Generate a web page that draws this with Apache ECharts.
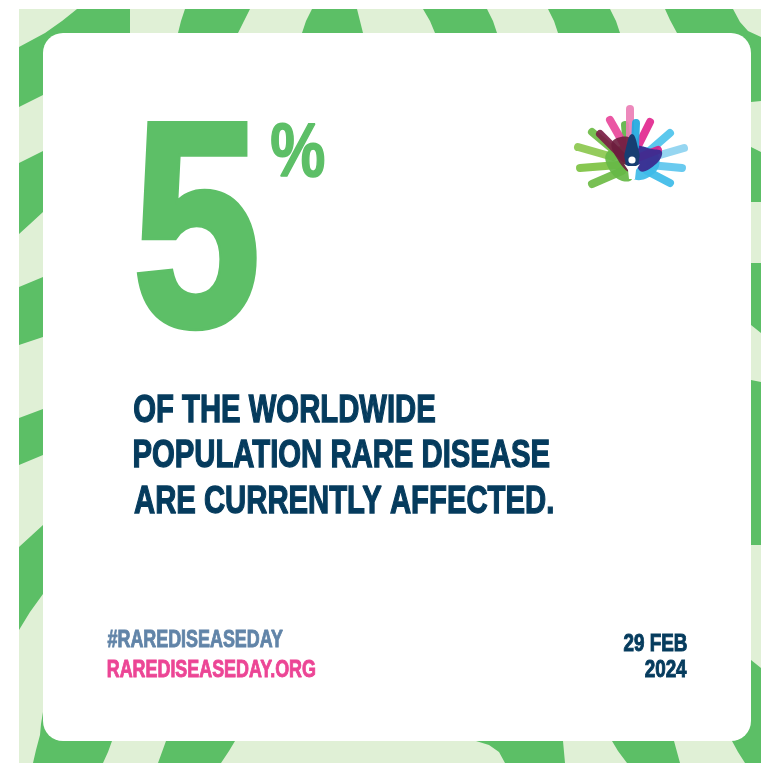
<!DOCTYPE html>
<html><head><meta charset="utf-8">
<script src="https://cdn.jsdelivr.net/npm/echarts@6/dist/echarts.min.js"></script>
<style>html,body{margin:0;padding:0;background:#fff}#c{width:761px;height:763px}</style>
</head><body><div id="c"></div>
<script>
// ---- content ----
const statValue = ['5'];
const statUnit = ['%'];
const bodyLines = ['OF THE WORLDWIDE', 'POPULATION RARE DISEASE', 'ARE CURRENTLY AFFECTED.'];
const hashtagText = ['#RAREDISEASEDAY'];
const siteText = ['RAREDISEASEDAY.ORG'];
const dateLines = ['29 FEB', '2024'];

// ---- styles ----
const C = {
  dark: '#5CBF66', light: '#E0F0D6', green: '#5DBF67', navy: '#053B5D',
  slate: '#6184A8', pink: '#EC4595'
};
const FAMILY = '"Liberation Sans", Arial, sans-serif';

const ctx = document.createElement('canvas').getContext('2d');
function ink(text, size, weight) {
  ctx.font = weight + ' ' + size + 'px ' + FAMILY;
  ctx.textBaseline = 'middle'; ctx.textAlign = 'left';
  const m = ctx.measureText(text);
  return { l: m.actualBoundingBoxLeft, r: m.actualBoundingBoxRight, a: m.actualBoundingBoxAscent, d: m.actualBoundingBoxDescent };
}
// Place text so its ink box fits the given box
function makeText(text, o) {
  const weight = o.weight || 'bold';
  let size = o.size;
  if (!size) { const b = ink(text, 100, weight); size = (o.y1 - o.y0) / (b.a + b.d) * 100; }
  const m = ink(text, size, weight);
  const sx = o.sx || (o.x1 - o.x0) / (m.l + m.r);
  const x = o.align === 'right' ? o.x1 - m.r * sx : o.x0 + m.l * sx;
  const y = o.y1 - m.d;
  const style = { text: text, fontSize: size, fontFamily: FAMILY, fontWeight: weight, fill: o.color,
    align: 'left', verticalAlign: 'middle', textAlign: 'left', textVerticalAlign: 'middle' };
  if (o.stroke) { style.stroke = o.color; style.lineWidth = o.stroke; style.lineJoin = 'round'; }
  return { el: { type: 'text', x: x, y: y, scaleX: sx, z: 20, style: style }, sx: sx, size: size };
}
function sizeFor(text, h, weight) { const b = ink(text, 100, weight || 'bold'); return h / (b.a + b.d) * 100; }
function widthFor(text, size, weight) { const m = ink(text, size, weight || 'bold'); return m.l + m.r; }

const els = [];
// frame background
els.push({ type: 'rect', shape: { x: 19, y: 9, width: 742, height: 754 }, style: { fill: C.light }, z: 1 });
const stripes = [
  // top-left corner
  [[77,9],[130,9],[130,55],[55,55],[55,92],[43,95],[19,107],[19,47],[45,33],[62,21]],
  // top band
  [[185,9],[250,9],[244,21],[238,33],[238,50],[178,50],[178,33],[181,21]],
  [[312,9],[357,9],[360,21],[363,33],[363,50],[302,50],[302,33],[306,21]],
  [[423,9],[487,9],[493,21],[497,33],[497,50],[435,50],[435,33],[430,21]],
  [[548,9],[610,9],[616,21],[620,33],[620,50],[558,50],[558,33],[554,21]],
  // top-right corner
  [[665,9],[733,9],[740,22],[748,31],[761,37],[761,101],[751,102],[735,102],[735,50],[677,50],[677,33],[670,20]],
  // right band
  [[735,147],[751,147],[761,152],[761,202],[751,202],[735,202]],
  [[735,263],[751,263],[761,263],[761,333],[751,325],[735,325]],
  [[735,380],[751,380],[761,382],[761,545],[751,545],[735,545]],
  // bottom-right corner
  [[735,662],[751,660],[761,668],[761,763],[745,763],[738,752],[732,741],[732,725],[735,725]],
  // bottom band
  [[612,725],[674,725],[674,741],[677,752],[680,763],[627,763],[618,751],[612,741]],
  [[476,725],[563,725],[563,741],[564,752],[565,763],[505,763],[499,752],[489,745],[476,741]],
  [[166,725],[235,725],[235,741],[229,751],[221,763],[158,763],[162,752],[166,741]],
  // bottom-left corner
  [[48,705],[43,712],[41,724],[40,735],[36,750],[33,763],[103,763],[108,752],[112,741],[112,725],[48,725]],
  // left band
  [[19,163],[43,151],[58,151],[58,212],[43,212],[30,224],[19,234]],
  [[19,287],[43,277],[58,277],[58,337],[43,337],[19,345]],
  [[19,418],[43,409],[58,409],[58,455],[43,455],[19,465]],
  [[19,547],[43,525],[58,525],[58,594],[43,594],[30,612],[19,630]]
];
stripes.forEach(p => els.push({ type: 'polygon', shape: { points: p }, style: { fill: C.dark }, z: 2 }));
// card
els.push({ type: 'rect', shape: { x: 43, y: 33, width: 708, height: 708, r: 20 }, style: { fill: '#fff' }, z: 3 });

// big number and unit
els.push(makeText(statValue[0], { x0: 136, x1: 255, y0: 125, y1: 330, color: C.green, stroke: 6 }).el);
els.push(makeText(statUnit[0], { x0: 271, x1: 324, y0: 123, y1: 177, color: C.green, stroke: 1.5 }).el);

// body text
const bodySize = sizeFor('POPULATION RARE DISEASE', 27);
const bodySx = (549 - 134) / widthFor(bodyLines[1], bodySize);
const bodyBase = [[393.5, 421.5], [439.5, 466.5], [485.5, 512.5]];
bodyLines.forEach((t, i) => {
  els.push(makeText(t, { x0: 134, y0: bodyBase[i][0], y1: bodyBase[i][1], size: bodySize, sx: bodySx, color: C.navy, stroke: 1.3 }).el);
});

// footer left
const footSize = sizeFor('RAREDISEASEDAY', 17);
const footSx = (315.5 - 107.5) / widthFor(siteText[0], footSize);
els.push(makeText(hashtagText[0], { x0: 107.5, y0: 629.5, y1: 646.5, size: footSize, sx: footSx, color: C.slate, stroke: 0.9 }).el);
els.push(makeText(siteText[0], { x0: 107.5, y0: 659.5, y1: 676.5, size: footSize, sx: footSx, color: C.pink, stroke: 0.9 }).el);

// footer right (date)
const dateSize = sizeFor('FEB', 16.5);
const dateSx = (686.5 - 623.5) / widthFor(dateLines[0], dateSize);
els.push(makeText(dateLines[0], { x1: 686.5, y0: 634.5, y1: 650.5, size: dateSize, sx: dateSx, color: C.navy, align: 'right', stroke: 1 }).el);
els.push(makeText(dateLines[1], { x1: 686.5, y0: 660.5, y1: 676.5, size: dateSize, sx: dateSx, color: C.navy, align: 'right', stroke: 1 }).el);

// logo (hands)
function finger(x1, y1, x2, y2, color, w, op) {
  els.push({ type: 'line', z: 10, shape: { x1: x1, y1: y1, x2: x2, y2: y2 },
    style: { stroke: color, lineWidth: w || 8, lineCap: 'round', opacity: op == null ? 0.92 : op } });
}
function blob(points, color, op) {
  els.push({ type: 'polygon', z: 10, shape: { points: points, smooth: 0.4 }, style: { fill: color, opacity: op == null ? 0.92 : op } });
}
// green hand
finger(613, 157, 578, 147, '#8CC84F');
finger(618, 165, 580, 168, '#7DC242');
finger(622, 171, 592, 184, '#6DBB45');
finger(617, 153, 592, 132, '#6DBB45');
finger(627, 148, 625, 125, '#5DB346');
blob([[606,154],[628,147],[634,168],[630,181],[614,176]], '#66B847');
// light blue hand
finger(647, 153, 670, 133, '#4DC3EC');
finger(653, 157, 684, 148, '#8DD3F0');
finger(650, 165, 682, 168, '#5CC6EE');
finger(647, 171, 670, 183, '#3DBBE8');
blob([[632,150],[654,150],[659,166],[645,179],[632,177]], '#3DBBE8');
// pink hand
finger(626, 148, 610, 120, '#E8489B');
finger(630, 142, 630, 109, '#EC7FB6');
finger(638, 146, 650, 122, '#E2288F');
finger(640, 157, 658, 150, '#D6208A');
// maroon hand
finger(624, 158, 600, 134, '#7A1E45');
blob([[612,142],[630,138],[636,160],[630,172],[618,160]], '#6B1D3D', 0.9);
// purple hand
blob([[636,147],[652,149],[662,152],[656,164],[640,171]], '#3A2C90', 0.95);
// cyan finger
finger(635, 146, 636, 123, '#1FA8E0');
// navy drop
els.push({ type: 'polygon', z: 11, shape: { points: [[632,134],[639,152],[639,160],[636,168],[628,168],[625,160],[625,152]], smooth: 0.5 }, style: { fill: '#173E72' } });
// white person
els.push({ type: 'circle', z: 12, shape: { cx: 632, cy: 160, r: 3.6 }, style: { fill: '#fff' } });
els.push({ type: 'polygon', z: 12, shape: { points: [[624,164],[628,166],[636,166],[640,164],[636,170],[635,179],[629,179],[628,170]] }, style: { fill: '#fff' } });

const chart = echarts.init(document.getElementById('c'), null, { renderer: 'canvas' });
chart.setOption({ animation: false, graphic: { elements: els } });
</script>
</body></html>
